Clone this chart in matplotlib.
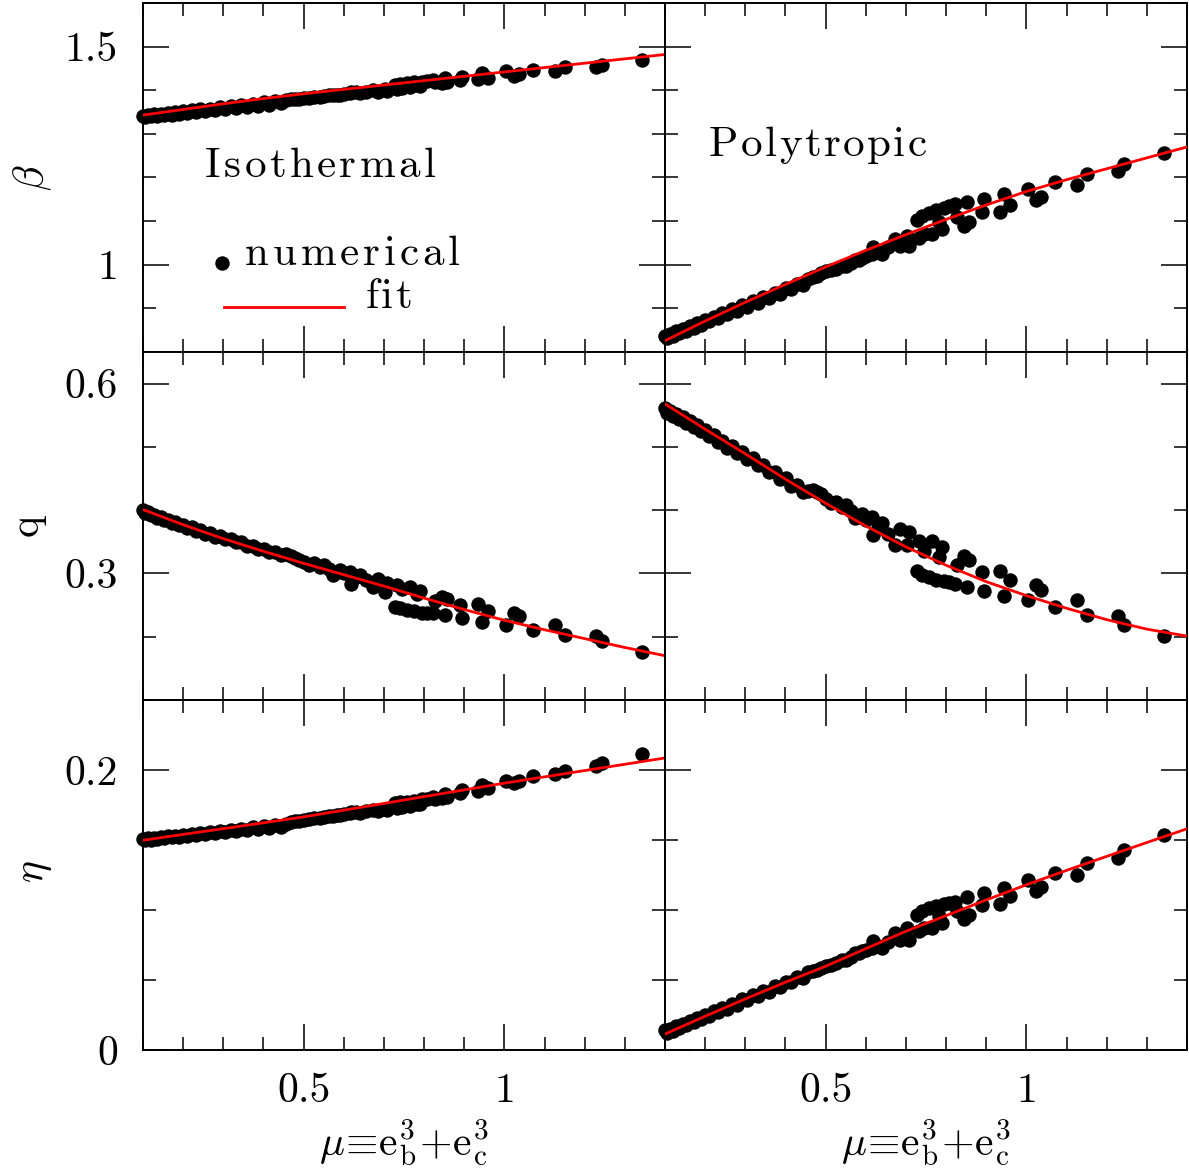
import numpy as np
import matplotlib
matplotlib.use("Agg")
import matplotlib.pyplot as plt
from matplotlib.ticker import MultipleLocator, FuncFormatter
from matplotlib.font_manager import FontProperties

plt.rcParams['font.family'] = ['cmr10', 'DejaVu Serif']
plt.rcParams['mathtext.fontset'] = 'cm'
plt.rcParams['axes.unicode_minus'] = False
plt.rcParams['axes.formatter.use_mathtext'] = True

# ---------------- data ----------------
# mu values of the runs (shared by both models)
mu_dense = [0.100, 0.106, 0.113, 0.120, 0.128, 0.136, 0.144, 0.153, 0.162, 0.171, 0.180,
            0.190, 0.200, 0.210, 0.221, 0.232, 0.243, 0.255, 0.267, 0.279, 0.292, 0.305,
            0.318, 0.331, 0.345, 0.359, 0.373, 0.387, 0.401, 0.415, 0.429, 0.443, 0.456]
mu_mid = [0.478, 0.500, 0.527, 0.540, 0.562, 0.582, 0.600, 0.630, 0.655]
mu_sparse = [0.468, 0.489, 0.514, 0.552, 0.573, 0.590, 0.615, 0.619, 0.640, 0.673, 0.686,
             0.703, 0.707, 0.728, 0.732, 0.740, 0.745, 0.757, 0.765, 0.774, 0.782, 0.790,
             0.795, 0.808, 0.822, 0.828, 0.845, 0.853, 0.857, 0.889, 0.895, 0.934, 0.945,
             0.958, 1.004, 1.025, 1.037, 1.071, 1.125, 1.152, 1.227, 1.242, 1.343]

# Isothermal
beta_iso_dense = [1.342, 1.339, 1.344, 1.340, 1.345, 1.341, 1.346, 1.343, 1.348, 1.344, 1.350,
                  1.346, 1.352, 1.348, 1.354, 1.350, 1.356, 1.352, 1.358, 1.355, 1.361, 1.356,
                  1.364, 1.360, 1.367, 1.362, 1.369, 1.365, 1.372, 1.367, 1.375, 1.370, 1.378]
beta_iso_mid = [1.380, 1.382, 1.385, 1.384, 1.388, 1.389, 1.392, 1.395, 1.397]
beta_iso_sparse = [1.379, 1.381, 1.383, 1.386, 1.388, 1.390, 1.393, 1.396, 1.394, 1.400, 1.397,
                   1.403, 1.398, 1.412, 1.404, 1.414, 1.406, 1.416, 1.407, 1.418, 1.412, 1.410,
                   1.420, 1.421, 1.424, 1.418, 1.417, 1.428, 1.418, 1.424, 1.431, 1.426, 1.439,
                   1.427, 1.443, 1.432, 1.437, 1.446, 1.445, 1.454, 1.454, 1.459, 1.469]

q_iso_dense = [0.401, 0.396, 0.397, 0.392, 0.393, 0.388, 0.389, 0.384, 0.385, 0.380, 0.381,
               0.376, 0.377, 0.372, 0.373, 0.367, 0.368, 0.363, 0.364, 0.358, 0.359, 0.354,
               0.355, 0.349, 0.349, 0.344, 0.344, 0.339, 0.339, 0.334, 0.334, 0.329, 0.330]
q_iso_mid = [0.325, 0.318, 0.316, 0.310, 0.307, 0.302, 0.300, 0.295, 0.290]
q_iso_sparse = [0.327, 0.322, 0.313, 0.313, 0.297, 0.305, 0.302, 0.284, 0.297, 0.278, 0.292,
                0.270, 0.285, 0.247, 0.282, 0.245, 0.275, 0.243, 0.279, 0.241, 0.268, 0.273,
                0.238, 0.237, 0.237, 0.257, 0.263, 0.234, 0.260, 0.250, 0.229, 0.251, 0.224,
                0.241, 0.218, 0.237, 0.232, 0.210, 0.218, 0.202, 0.201, 0.193, 0.176]

eta_iso_dense = [0.1505, 0.1497, 0.1512, 0.1503, 0.1517, 0.1508, 0.1522, 0.1513, 0.1527, 0.1518,
                 0.1532, 0.1523, 0.1538, 0.1529, 0.1545, 0.1535, 0.1552, 0.1542, 0.1559, 0.1549,
                 0.1566, 0.1556, 0.1574, 0.1564, 0.1582, 0.1572, 0.1590, 0.1580, 0.1598, 0.1588,
                 0.1606, 0.1596, 0.1614]
eta_iso_mid = [0.1633, 0.1645, 0.1655, 0.1660, 0.1668, 0.1676, 0.1685, 0.1697, 0.1705]
eta_iso_sparse = [0.1630, 0.1637, 0.1650, 0.1665, 0.1672, 0.1680, 0.1690, 0.1700, 0.1695, 0.1715,
                  0.1705, 0.1722, 0.1712, 0.1765, 0.1730, 0.1770, 0.1735, 0.1775, 0.1740, 0.1782,
                  0.1760, 0.1755, 0.1790, 0.1795, 0.1805, 0.1790, 0.1800, 0.1830, 0.1805, 0.1836,
                  0.1860, 0.1850, 0.1895, 0.1870, 0.1920, 0.1905, 0.1920, 0.1955, 0.1970, 0.1995,
                  0.2030, 0.2050, 0.2114]

# Polytropic
beta_poly_dense = [0.837, 0.833, 0.842, 0.837, 0.847, 0.843, 0.853, 0.849, 0.860, 0.856, 0.866,
                   0.863, 0.873, 0.870, 0.881, 0.878, 0.889, 0.886, 0.898, 0.895, 0.907, 0.904,
                   0.916, 0.913, 0.926, 0.923, 0.936, 0.933, 0.947, 0.944, 0.957, 0.954, 0.967]
beta_poly_mid = [0.975, 0.985, 0.990, 0.997, 1.004, 1.010, 1.020, 1.030, 1.040]
beta_poly_sparse = [0.971, 0.980, 0.987, 0.998, 1.011, 1.016, 1.025, 1.040, 1.025, 1.059, 1.042,
                    1.067, 1.044, 1.102, 1.062, 1.111, 1.070, 1.118, 1.071, 1.125, 1.098, 1.082,
                    1.131, 1.135, 1.139, 1.109, 1.088, 1.144, 1.098, 1.121, 1.151, 1.121, 1.163,
                    1.138, 1.174, 1.148, 1.155, 1.190, 1.182, 1.207, 1.215, 1.230, 1.256]

q_poly_dense = [0.561, 0.553, 0.557, 0.549, 0.552, 0.544, 0.547, 0.538, 0.541, 0.532, 0.534,
                0.525, 0.527, 0.517, 0.519, 0.508, 0.510, 0.499, 0.501, 0.491, 0.492, 0.481,
                0.482, 0.471, 0.472, 0.460, 0.461, 0.450, 0.451, 0.439, 0.440, 0.429, 0.430]
q_poly_mid = [0.428, 0.418, 0.413, 0.405, 0.398, 0.390, 0.385, 0.372, 0.362]
q_poly_sparse = [0.432, 0.426, 0.411, 0.408, 0.387, 0.394, 0.389, 0.361, 0.379, 0.345, 0.371,
                 0.345, 0.366, 0.304, 0.352, 0.297, 0.336, 0.295, 0.352, 0.290, 0.326, 0.342,
                 0.288, 0.286, 0.284, 0.313, 0.327, 0.279, 0.321, 0.303, 0.273, 0.304, 0.264,
                 0.289, 0.258, 0.282, 0.274, 0.247, 0.258, 0.234, 0.232, 0.218, 0.201]

eta_poly_dense = [0.0140, 0.0124, 0.0153, 0.0139, 0.0170, 0.0157, 0.0188, 0.0176, 0.0208, 0.0197,
                  0.0229, 0.0219, 0.0252, 0.0242, 0.0277, 0.0268, 0.0303, 0.0295, 0.0331, 0.0324,
                  0.0361, 0.0354, 0.0391, 0.0384, 0.0422, 0.0417, 0.0455, 0.0450, 0.0489, 0.0484,
                  0.0522, 0.0517, 0.0555]
eta_poly_mid = [0.0575, 0.0598, 0.0625, 0.0640, 0.0665, 0.0690, 0.0712, 0.0745, 0.0770]
eta_poly_sparse = [0.0562, 0.0586, 0.0610, 0.0645, 0.0693, 0.0705, 0.0729, 0.0776, 0.0729, 0.0836,
                   0.0788, 0.0871, 0.0788, 0.0967, 0.0848, 0.0995, 0.0870, 0.1014, 0.0871, 0.1026,
                   0.0955, 0.0907, 0.1043, 0.1050, 0.1060, 0.0990, 0.0938, 0.1090, 0.0962, 0.1038,
                   0.1121, 0.1043, 0.1160, 0.1098, 0.1217, 0.1133, 0.1162, 0.1264, 0.1250, 0.1336,
                   0.1370, 0.1430, 0.1538]

# fit curves (read at these mu values)
fit_mu = [0.1, 0.2, 0.3, 0.4, 0.5, 0.6, 0.7, 0.8, 0.9, 1.0, 1.1, 1.2, 1.3, 1.4]
fit_beta_iso = [1.343, 1.356, 1.369, 1.381, 1.392, 1.402, 1.412, 1.422, 1.432, 1.442, 1.452, 1.462, 1.472, 1.482]
fit_q_iso = [0.401, 0.377, 0.355, 0.335, 0.316, 0.298, 0.280, 0.261, 0.243, 0.226, 0.211, 0.197, 0.183, 0.170]
fit_eta_iso = [0.1498, 0.1540, 0.1581, 0.1623, 0.1665, 0.1713, 0.1761, 0.1810, 0.1858, 0.1906, 0.1951, 0.1996, 0.2041, 0.2086]
fit_beta_poly = [0.826, 0.871, 0.914, 0.955, 0.995, 1.033, 1.069, 1.104, 1.137, 1.168, 1.195, 1.220, 1.245, 1.270]
fit_q_poly = [0.568, 0.528, 0.489, 0.449, 0.411, 0.375, 0.342, 0.313, 0.287, 0.265, 0.245, 0.227, 0.212, 0.201]
fit_eta_poly = [0.0114, 0.0241, 0.0365, 0.0484, 0.0598, 0.0724, 0.0848, 0.0960, 0.1072, 0.1180, 0.1283, 0.1383, 0.1482, 0.1580]

row_labels = [r'$\beta$', 'q', r'$\eta$']
row_limits = [(0.8, 1.6), (0.1, 0.65), (0.0, 0.25)]
row_major = [0.5, 0.3, 0.2]
row_minor = [0.1, 0.1, 0.05]
x_limits = (0.1, 1.4)
xlabel_text = r'$\mu\!\equiv\!\mathrm{e}_\mathrm{b}^3\!+\!\mathrm{e}_\mathrm{c}^3$'

mu = mu_dense + mu_mid + mu_sparse
series = {
    (0, 0): (beta_iso_dense + beta_iso_mid + beta_iso_sparse, fit_beta_iso),
    (1, 0): (q_iso_dense + q_iso_mid + q_iso_sparse, fit_q_iso),
    (2, 0): (eta_iso_dense + eta_iso_mid + eta_iso_sparse, fit_eta_iso),
    (0, 1): (beta_poly_dense + beta_poly_mid + beta_poly_sparse, fit_beta_poly),
    (1, 1): (q_poly_dense + q_poly_mid + q_poly_sparse, fit_q_poly),
    (2, 1): (eta_poly_dense + eta_poly_mid + eta_poly_sparse, fit_eta_poly),
}

# ---------------- figure ----------------
W, H = 1189, 1169
fig = plt.figure(figsize=(W / 100, H / 100), dpi=100)
col_x = [143, 665]
col_w = 522
row_top = [3, 352, 700]
row_bot = [352, 700, 1050]

fmt = FuncFormatter(lambda v, p: '%g' % round(v, 6))
axes = {}
for r in range(3):
    for c in range(2):
        ax = fig.add_axes([col_x[c] / W, (H - row_bot[r]) / H, col_w / W,
                           (row_bot[r] - row_top[r]) / H])
        axes[(r, c)] = ax
        y, fy = series[(r, c)]
        ax.plot(mu, y, 'o', color='black', ms=10.4, mew=0, clip_on=False, zorder=3)
        ax.plot(fit_mu, fy, '-', color='#ff0000', lw=2.0, zorder=4)
        ax.set_xlim(*x_limits)
        ax.set_ylim(*row_limits[r])
        ax.xaxis.set_major_locator(MultipleLocator(0.5))
        ax.xaxis.set_minor_locator(MultipleLocator(0.1))
        ax.yaxis.set_major_locator(MultipleLocator(row_major[r]))
        ax.yaxis.set_minor_locator(MultipleLocator(row_minor[r]))
        ax.xaxis.set_major_formatter(fmt)
        ax.yaxis.set_major_formatter(fmt)
        ax.tick_params(which='both', direction='in', top=True, right=True,
                       width=1.1, labelsize=30)
        ax.tick_params(which='major', length=19)
        ax.tick_params(which='minor', length=9.5)
        ax.tick_params(axis='y', pad=18)
        ax.tick_params(axis='x', pad=16)
        for s in ax.spines.values():
            s.set_linewidth(1.4)
        if c == 1:
            ax.tick_params(labelleft=False)
        if r < 2:
            ax.tick_params(labelbottom=False)

# y labels
label_pos = [(33, 178), (27, 525), (35, 872)]
for r in range(3):
    fig.text(label_pos[r][0] / W, 1 - label_pos[r][1] / H, row_labels[r],
             rotation=90, ha='center', va='center', fontsize=30)

# x labels
for cx in [404, 926]:
    fig.text(cx / W, 1 - 1143 / H, xlabel_text, ha='center', va='center', fontsize=30)

# letter-spaced text (the reference font is set with wider tracking)
renderer = fig.canvas.get_renderer()
fp = FontProperties(family='cmr10', size=31)


def spaced_text(x_px, y_px, s, extra_px):
    for i, ch in enumerate(s):
        if i == 0:
            off = 0.0
        else:
            w_prefix, _, _ = renderer.get_text_width_height_descent(s[:i], fp, ismath=False)
            off = w_prefix
        fig.text((x_px + off + i * extra_px) / W, 1 - y_px / H, ch, fontproperties=fp,
                 ha='left', va='baseline')


spaced_text(205, 177, 'Isothermal', 3.4)
spaced_text(245, 265, 'numerical', 3.8)
spaced_text(366, 308, 'fit', 2.0)
spaced_text(709, 156, 'Polytropic', 2.4)

ax0 = axes[(0, 0)]
ax0.plot([0.151], [0.255], 'o', color='black', ms=10.4, mew=0, transform=ax0.transAxes)
ax0.plot([0.155, 0.385], [0.129, 0.129], '-', color='#ff0000', lw=2.0,
         transform=ax0.transAxes)

fig.savefig('out.png', dpi=100)
